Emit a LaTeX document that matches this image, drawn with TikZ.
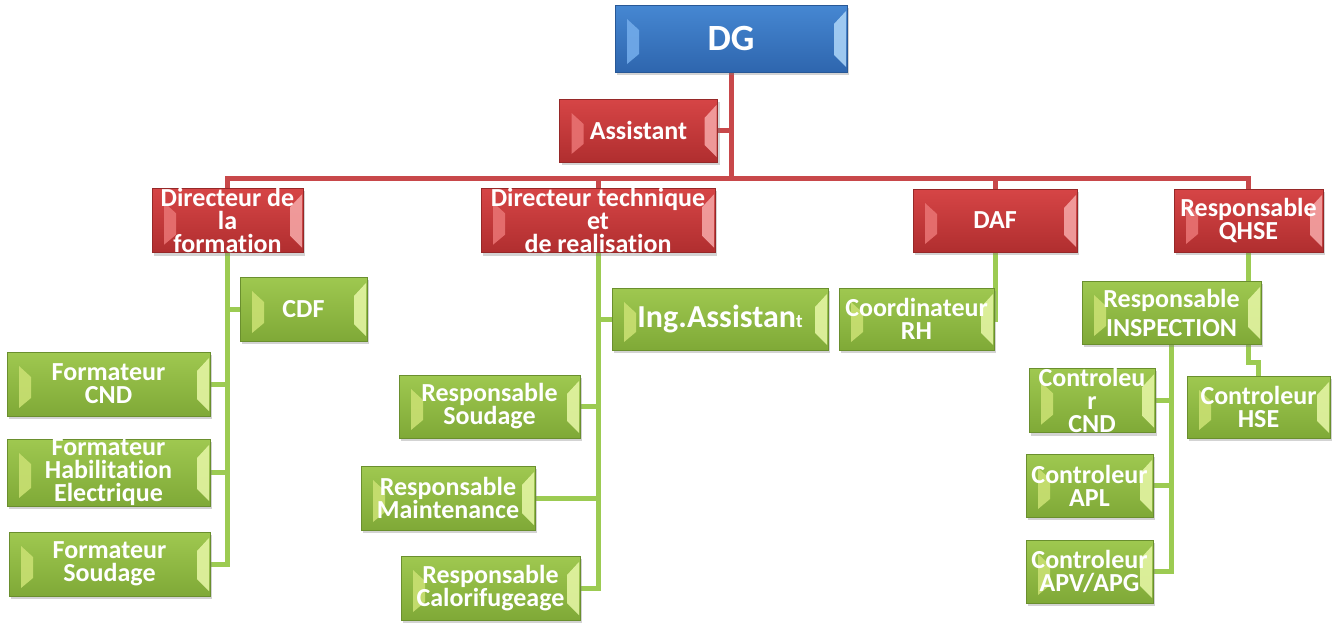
\documentclass[tikz,border=0pt]{standalone}
\usepackage{fontspec}
\setmainfont{Carlito}[Ligatures=NoCommon]
\usetikzlibrary{calc,shadows,backgrounds}
\definecolor{rTop}{HTML}{D64546}
\definecolor{rBot}{HTML}{B02E2F}
\definecolor{rEdge}{HTML}{962828}
\definecolor{rL}{HTML}{E87272}
\definecolor{rR}{HTML}{F4A3A3}
\definecolor{gTop}{HTML}{9FC850}
\definecolor{gBot}{HTML}{7FA937}
\definecolor{gEdge}{HTML}{6A8F2E}
\definecolor{gL}{HTML}{C9E072}
\definecolor{gR}{HTML}{E3F4A2}
\definecolor{bTop}{HTML}{4687D2}
\definecolor{bBot}{HTML}{2E66AE}
\definecolor{bEdge}{HTML}{285896}
\definecolor{bL}{HTML}{72ABEA}
\definecolor{bR}{HTML}{A9D2F6}
\definecolor{redline}{HTML}{C8484A}
\definecolor{greenline}{HTML}{9CCB52}
\tikzset{
  bevel/.style 2 args={path picture={
    \fill[#1, opacity=0.9] let \p1=(path picture bounding box.north west), \p2=(path picture bounding box.south east) in
      (\x1+12pt,\y1-14pt) -- (\x1+24pt,\y1-25pt) -- (\x1+24pt,\y2+18pt) -- (\x1+12pt,\y2+8pt) -- cycle;
    \fill[#2, opacity=0.9] let \p1=(path picture bounding box.north west), \p2=(path picture bounding box.south east) in
      (\x2-1pt,\y1-6pt) -- (\x2-13pt,\y1-19pt) -- (\x2-13pt,\y2+17pt) -- (\x2-1pt,\y2+5pt) -- cycle;
  }},
  boxbase/.style={rectangle, inner sep=0pt, align=center, text=white,
    font=\fontsize{26}{23}\selectfont\bfseries, line width=0.8pt,
    drop shadow={opacity=0.35, shadow xshift=2pt, shadow yshift=-3pt}},
  rbox/.style={boxbase, top color=rTop, bottom color=rBot, draw=rEdge, bevel={rL}{rR}},
  gbox/.style={boxbase, top color=gTop, bottom color=gBot, draw=gEdge, bevel={gL}{gR}},
  bbox/.style={boxbase, top color=bTop, bottom color=bBot, draw=bEdge, bevel={bL}{bR}},
  rline/.style={draw=redline, line width=5pt},
  gline/.style={draw=greenline, line width=5pt},
}
\begin{document}
\begin{tikzpicture}[x=1pt,y=-1pt]
\useasboundingbox (0,0) rectangle (1332,624);
% top level
\node[bbox, minimum width=232pt, minimum height=67pt, font=\fontsize{37}{37}\selectfont\bfseries] (dg) at (731,38.5) {DG};
\node[rbox, minimum width=158pt, minimum height=63pt] (asst) at (638.5,130.5) {Assistant};
\coordinate (bus) at (731,178);
% directors
\node[rbox, minimum width=151pt, minimum height=63pt] (dirf) at (227.5,220.5) {Directeur de\\la\\formation};
\node[rbox, minimum width=234pt, minimum height=63pt] (dirt) at (598,220.5) {Directeur technique\\et\\de realisation};
\node[rbox, minimum width=164pt, minimum height=63pt] (daf) at (995,220.5) {DAF};
\node[rbox, minimum width=149pt, minimum height=63pt] (qhse) at (1248.5,220.5) {Responsable\\QHSE};
% formation
\node[gbox, minimum width=127pt, minimum height=64pt] (cdf) at (303.5,309) {CDF};
\node[gbox, minimum width=203pt, minimum height=64pt] (fcnd) at (108.5,384) {Formateur\\CND};
\node[gbox, minimum width=203pt, minimum height=63pt] (fhab) at (108.5,472.5) {Formateur\\Habilitation\\Electrique};
\node[gbox, minimum width=201pt, minimum height=64pt] (fsoud) at (109.5,564) {Formateur\\Soudage};
% technique
\node[gbox, minimum width=216pt, minimum height=62pt, font=\fontsize{32}{32}\selectfont\bfseries] (ing) at (720,319) {Ing.Assistan{\fontsize{19}{19}\selectfont t}};
\node[gbox, minimum width=181pt, minimum height=63pt] (rsoud) at (489.5,406.5) {Responsable\\Soudage};
\node[gbox, minimum width=174pt, minimum height=64pt] (rmaint) at (448,498) {Responsable\\Maintenance};
\node[gbox, minimum width=179pt, minimum height=64pt] (rcalo) at (490.5,588) {Responsable\\Calorifugeage};
% DAF
\node[gbox, minimum width=155pt, minimum height=62pt] (coord) at (916.5,319) {Coordinateur\\RH};
% QHSE
\node[gbox, minimum width=179pt, minimum height=63pt] (insp) at (1171.5,312.5) {Responsable\\[6pt]INSPECTION};
\node[gbox, minimum width=126pt, minimum height=63pt] (ccnd) at (1092,400.5) {Controleu\\r\\CND};
\node[gbox, minimum width=127pt, minimum height=63pt] (capl) at (1089.5,485.5) {Controleur\\APL};
\node[gbox, minimum width=127pt, minimum height=63pt] (capv) at (1089.5,571.5) {Controleur\\APV/APG};
\node[gbox, minimum width=143pt, minimum height=62pt] (hse) at (1258.5,407) {Controleur\\HSE};
% connectors
\begin{scope}[on background layer]
  \draw[rline] (dg.south) -- (bus);
  \draw[rline] (asst.east) -- (asst.east -| dg.south);
  \draw[rline] (bus) -| (dirf.north);
  \draw[rline] (bus) -| (dirt.north);
  \draw[rline] (bus) -| (daf.north);
  \draw[rline] (bus) -| (qhse.north);
  % formation
  \draw[gline] (dirf.south) |- (fsoud.east);
  \draw[gline] (cdf.west) -- (cdf.west -| dirf.south);
  \draw[gline] (fcnd.east) -- (fcnd.east -| dirf.south);
  \draw[gline] (fhab.east) -- (fhab.east -| dirf.south);
  % technique
  \draw[gline] (dirt.south) |- (rcalo.east);
  \draw[gline] (ing.west) -- (ing.west -| dirt.south);
  \draw[gline] (rsoud.east) -- (rsoud.east -| dirt.south);
  \draw[gline] (rmaint.east) -- (rmaint.east -| dirt.south);
  % DAF
  \draw[gline] (daf.south) |- (coord.east);
  % QHSE
  \draw[gline] (qhse.south) |- ($(hse.north)+(0,-13)$) -| (hse.north);
  \draw[gline] (insp.south) |- (capv.east);
  \draw[gline] (ccnd.east) -- (ccnd.east -| insp.south);
  \draw[gline] (capl.east) -- (capl.east -| insp.south);
\end{scope}
\end{tikzpicture}
\end{document}
